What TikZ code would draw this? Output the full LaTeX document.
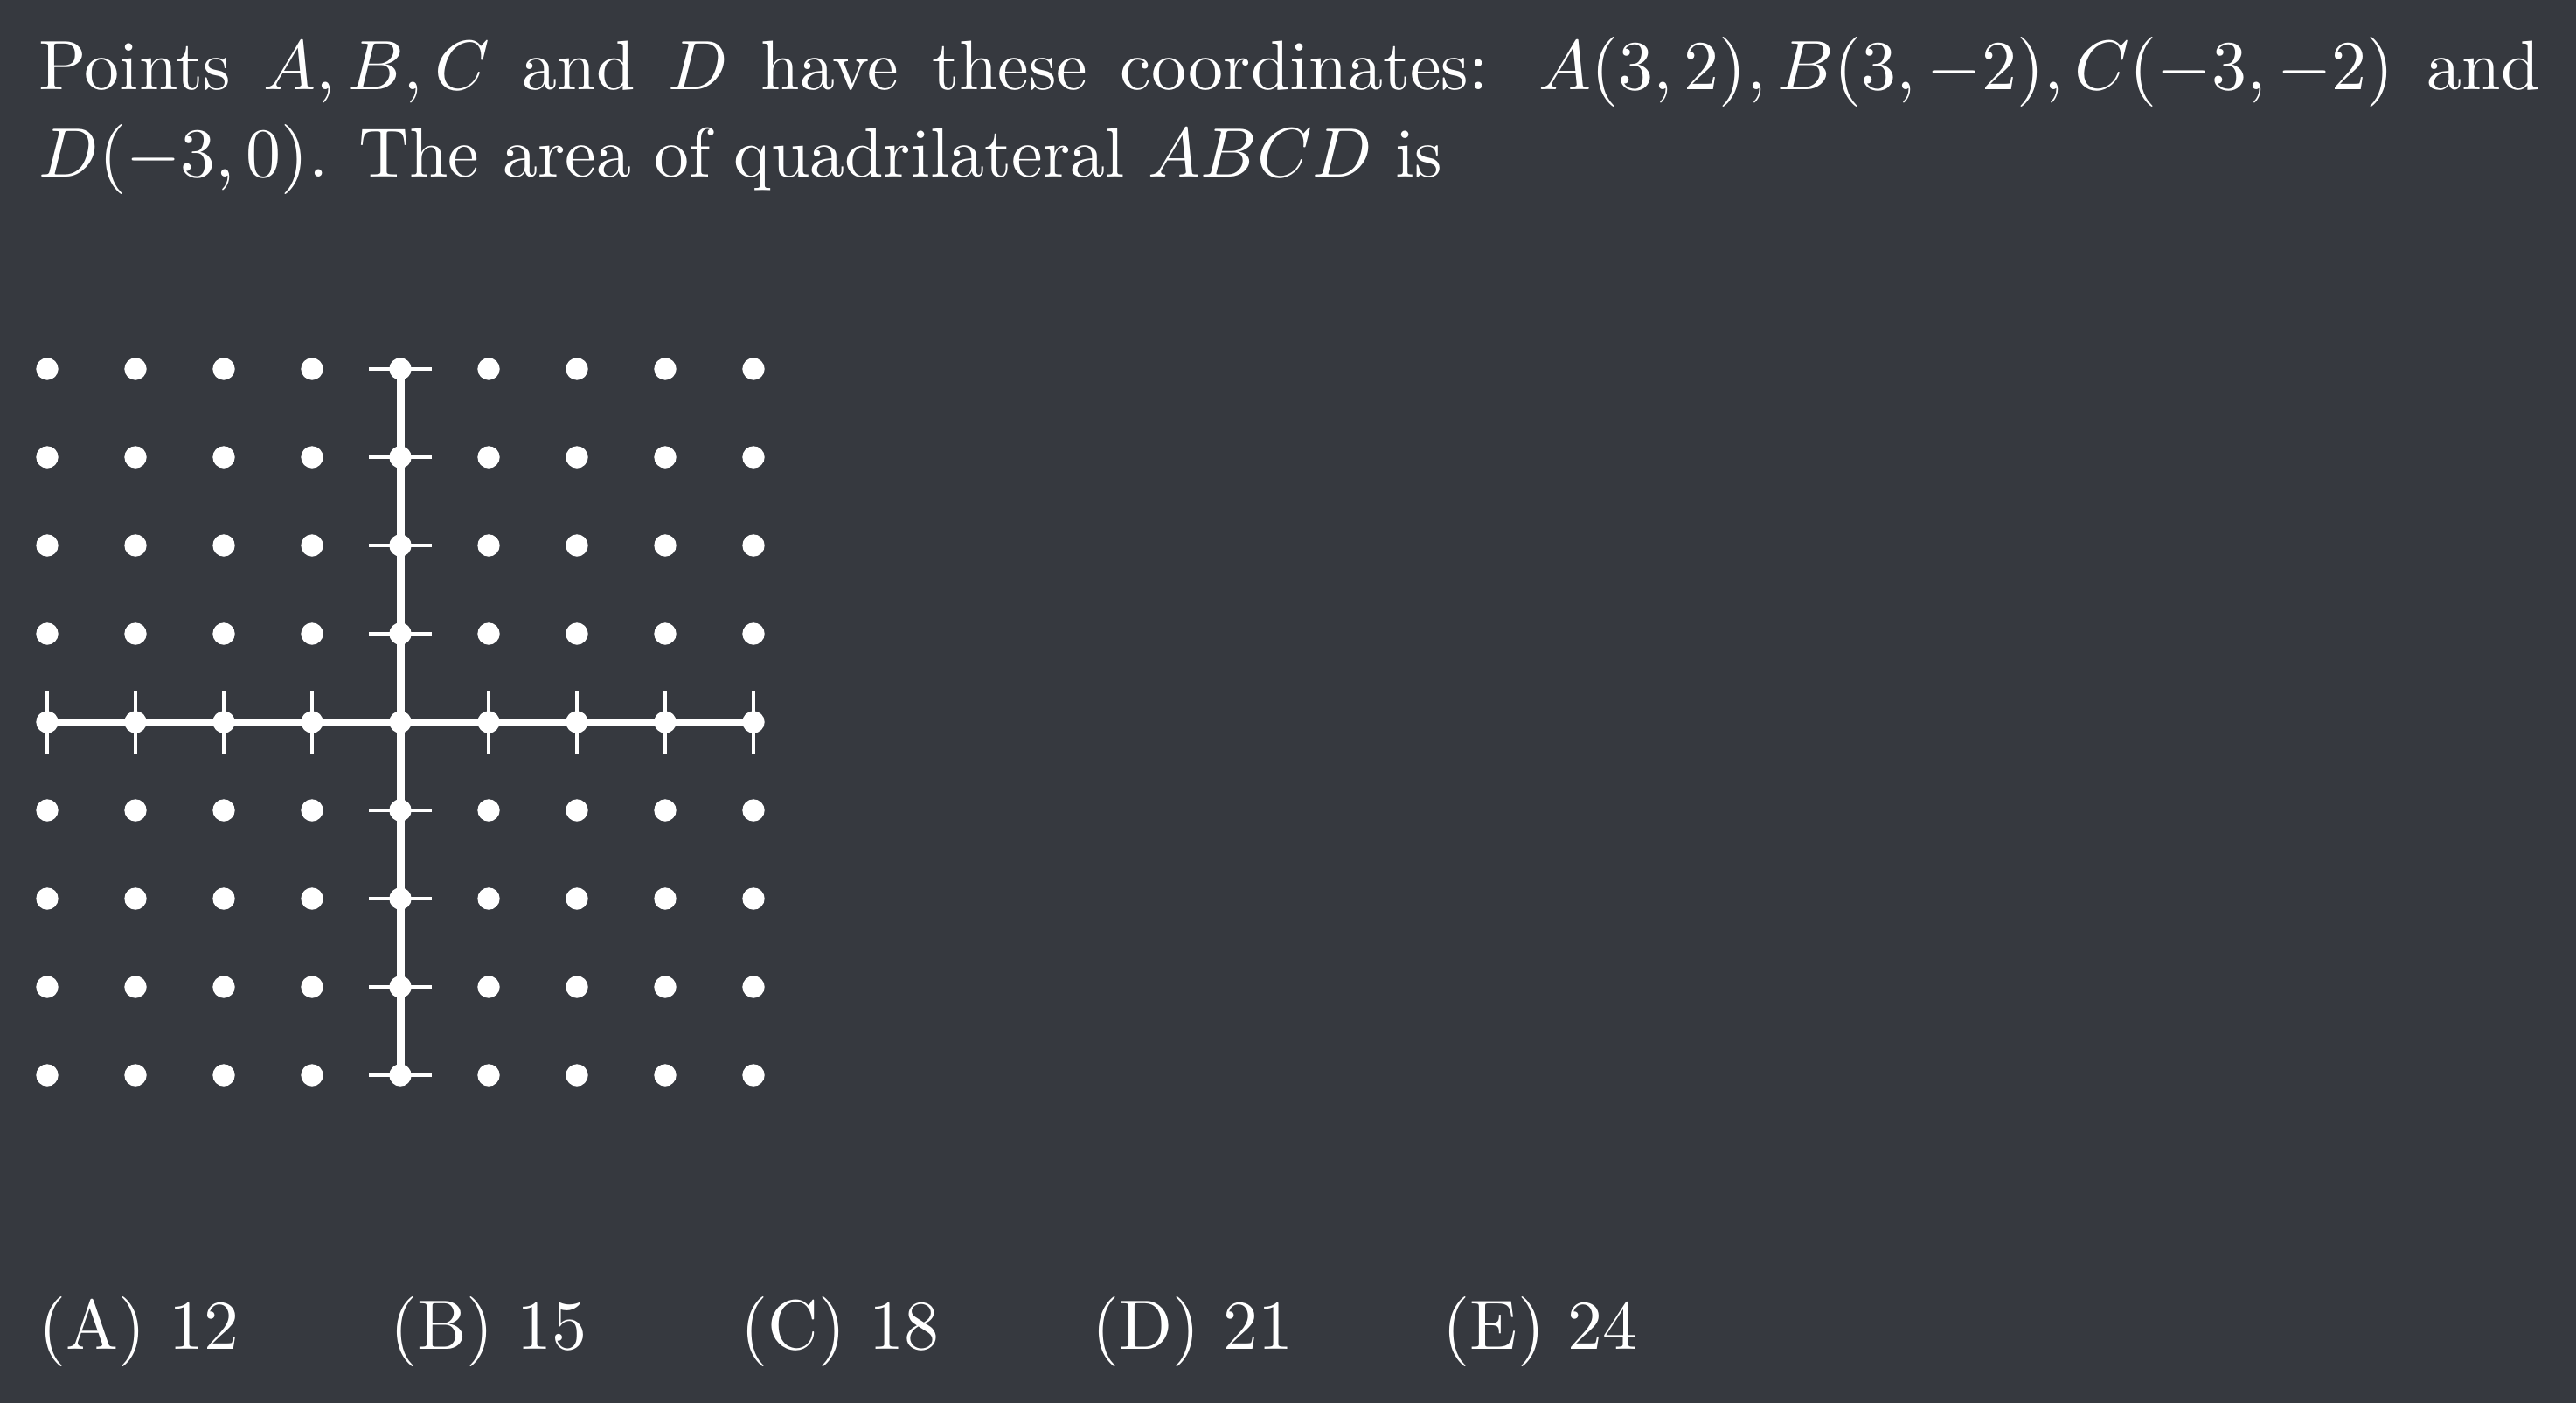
\documentclass[tikz,border=0pt]{standalone}
\definecolor{bg}{HTML}{36393F}
\begin{document}
\begin{tikzpicture}[x=1cm,y=1cm,
    dot/.style={circle,fill=white,inner sep=0pt,minimum size=2.54mm},
    axis/.style={white,line width=0.09cm},
    tick/.style={white,line width=0.04cm},
    txt/.style={text=white,inner sep=0pt,font=\fontsize{10}{12.5}\selectfont,scale=2.276,transform shape}]
  \fill[bg] (0,0) rectangle (29.47,-16.05);
  \useasboundingbox (0,0) rectangle (29.47,-16.05);
  % question
  \node[txt,anchor=base west,text width=12.57cm,align=justify] (question) at (0.43,-1.03)
    {Points $A, B, C$ and $D$ have these coordinates: $A(3,2), B(3,-2), C(-3,-2)$ and $D(-3,0)$. The area of quadrilateral $ABCD$ is};
  % dot grid
  \begin{scope}[shift={(4.58,-8.26)},x=1.01cm,y=1.01cm]
    \foreach \i in {-4,...,4}
      \foreach \j in {-4,...,4}
        \node[dot] (d\i\j) at (\i,\j) {};
  \end{scope}
  % axes
  \draw[axis] (d-40.center) -- (d40.center);
  \draw[axis] (d0-4.center) -- (d04.center);
  \foreach \i in {-4,-3,-2,-1,1,2,3,4}{
    \draw[tick] ([yshift=-3.6mm]d\i0.center) -- ([yshift=3.6mm]d\i0.center);
    \draw[tick] ([xshift=-3.6mm]d0\i.center) -- ([xshift=3.6mm]d0\i.center);
  }
  % answers
  \foreach \l/\v [count=\k from 0] in {A/12,B/15,C/18,D/21,E/24}
    \node[txt,anchor=base west] (ans\l) at (0.43+4.015*\k,-15.43) {(\l) \v};
\end{tikzpicture}
\end{document}
